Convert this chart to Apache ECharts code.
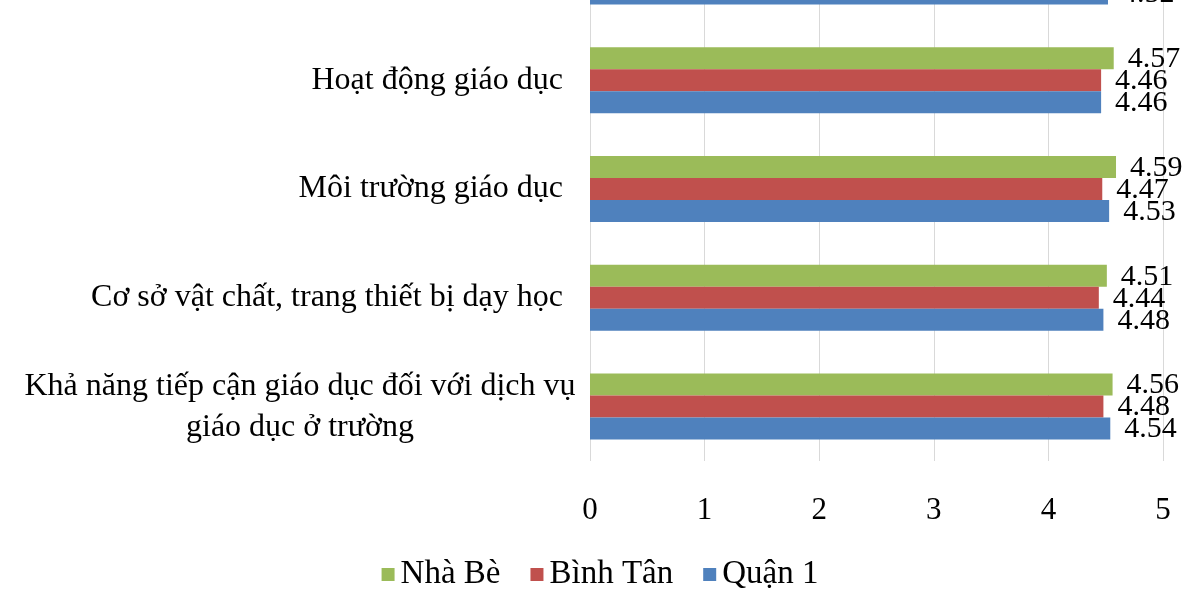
<!DOCTYPE html>
<html>
<head>
<meta charset="utf-8">
<script src="https://cdn.jsdelivr.net/npm/echarts@6/dist/echarts.min.js"></script>
<style>
  html, body { margin: 0; padding: 0; background: #fff; }
  #chart { width: 1200px; height: 600px; }
</style>
</head>
<body>
<div id="chart"></div>
<script>
// categories bottom -> top
const categories = [
  'Khả năng tiếp cận giáo dục đối với dịch vụ\ngiáo dục ở trường',
  'Cơ sở vật chất, trang thiết bị dạy học',
  'Môi trường giáo dục',
  'Hoạt động giáo dục',
  'Sự phối hợp giữa nhà trường với gia đình và người\ndân'
];
const nhaBe = [4.56, 4.51, 4.59, 4.57, 4.55];
const binhTan = [4.48, 4.44, 4.47, 4.46, 4.45];
const quan1 = [4.54, 4.48, 4.53, 4.46, 4.52];
const xTicks = [0, 1, 2, 3, 4, 5];

const FONT = '"Liberation Serif", "Times New Roman", serif';
const myChart = echarts.init(document.getElementById('chart'));

function catLabel(v) {
  const lines = v.split('\n');
  if (lines.length > 1) {
    return lines.map(l => '{m|' + l + '}').join('\n');
  }
  return '{s|' + v + '}';
}

function bar(name, data, color) {
  return {
    name: name,
    type: 'bar',
    data: data,
    barWidth: 22,
    barGap: '0%',
    itemStyle: { color: color },
    label: {
      show: true,
      position: 'right',
      distance: 14,
      offset: [0, 1],
      color: '#000',
      fontFamily: FONT,
      fontSize: 30,
      formatter: p => p.value.toFixed(2)
    }
  };
}

const option = {
  animation: false,
  grid: {
    left: 590,
    right: 37,
    top: -83,
    bottom: 139,
    containLabel: false,
    outerBoundsMode: 'none'
  },
  legend: {
    data: ['Nhà Bè', 'Bình Tân', 'Quận 1'],
    left: 'center',
    top: 553,
    icon: 'rect',
    itemWidth: 13,
    itemHeight: 13,
    itemGap: 30,
    textStyle: { fontFamily: FONT, fontSize: 33, color: '#000', padding: [0, 0, 0, 1] }
  },
  xAxis: {
    type: 'value',
    min: 0,
    max: 5,
    interval: 1,
    axisLine: { show: false },
    axisTick: { show: false },
    splitLine: { show: true, lineStyle: { color: '#d9d9d9', width: 1 } },
    axisLabel: {
      margin: 34,
      color: '#000',
      fontFamily: FONT,
      fontSize: 31,
      formatter: v => (xTicks.indexOf(v) >= 0 ? String(v) : '')
    }
  },
  yAxis: {
    type: 'category',
    data: categories,
    axisLine: { show: false },
    axisTick: { show: false },
    axisLabel: {
      margin: 7,
      interval: 0,
      showMaxLabel: true,
      showMinLabel: true,
      hideOverlap: false,
      color: '#000',
      fontFamily: FONT,
      fontSize: 32,
      lineHeight: 41,
      align: 'right',
      formatter: catLabel,
      rich: {
        s: { fontFamily: FONT, fontSize: 32, color: '#000', padding: [0, 20, 0, 0] },
        m: { fontFamily: FONT, fontSize: 32, color: '#000', width: 566, align: 'center', lineHeight: 41 }
      }
    }
  },
  series: [
    bar('Nhà Bè', nhaBe, '#9BBB59'),
    bar('Bình Tân', binhTan, '#C0504D'),
    bar('Quận 1', quan1, '#4F81BD')
  ]
};

myChart.setOption(option);
</script>
</body>
</html>
